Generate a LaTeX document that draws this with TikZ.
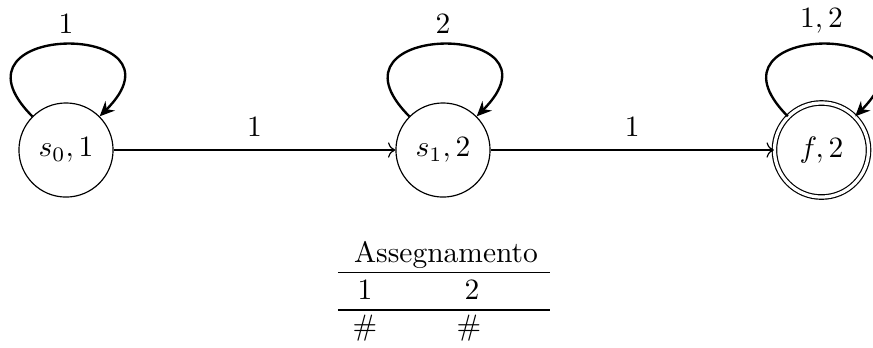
\documentclass[tikz,border=0pt]{standalone}
\usetikzlibrary{arrows.meta}
\begin{document}
\begin{tikzpicture}[x=0.339pt,y=-0.339pt,
  state/.style={circle,draw,line width=0.4pt,minimum size=31.9pt,inner sep=0pt},
  accept/.style={state,double,double distance=1.1pt},
  loopedge/.style={line width=0.8pt,-{Stealth[length=5pt,width=4.5pt]}},
  trans/.style={line width=0.4pt,->},
  tabrule/.style={line width=0.4pt}]
\useasboundingbox (0,0) rectangle (873,347);
\node[state] (s0) at (66,150) {$s_0,1$};
\node[state] (s1) at (443,150) {$s_1,2$};
\node[accept] (f) at (821.5,150) {$f,2$};
\draw[loopedge] (s0) to[out=135,in=45,distance=46pt] node[above] {$1$} (s0);
\draw[loopedge] (s1) to[out=135,in=45,distance=46pt] node[above] {$2$} (s1);
\draw[loopedge] (f) to[out=135,in=45,distance=46pt] node[above] {$1,2$} (f);
\draw[trans] (s0) -- node[above,yshift=1pt] {$1$} (s1);
\draw[trans] (s1) -- node[above,yshift=1pt] {$1$} (f);
\node[anchor=base] (title) at (446,262) {Assegnamento};
\coordinate (r1l) at (338,272.7);
\coordinate (r1r) at (550,272.7);
\coordinate (r2l) at (338,310);
\coordinate (r2r) at (550,310);
\draw[tabrule] (r1l) -- (r1r);
\draw[tabrule] (r2l) -- (r2r);
\node[anchor=base] (c1) at (365,299) {1};
\node[anchor=base] (c2) at (472,299) {2};
\node[anchor=base] (h1) at (365,335) {\#};
\node[anchor=base] (h2) at (469,335) {\#};
\end{tikzpicture}
\end{document}
